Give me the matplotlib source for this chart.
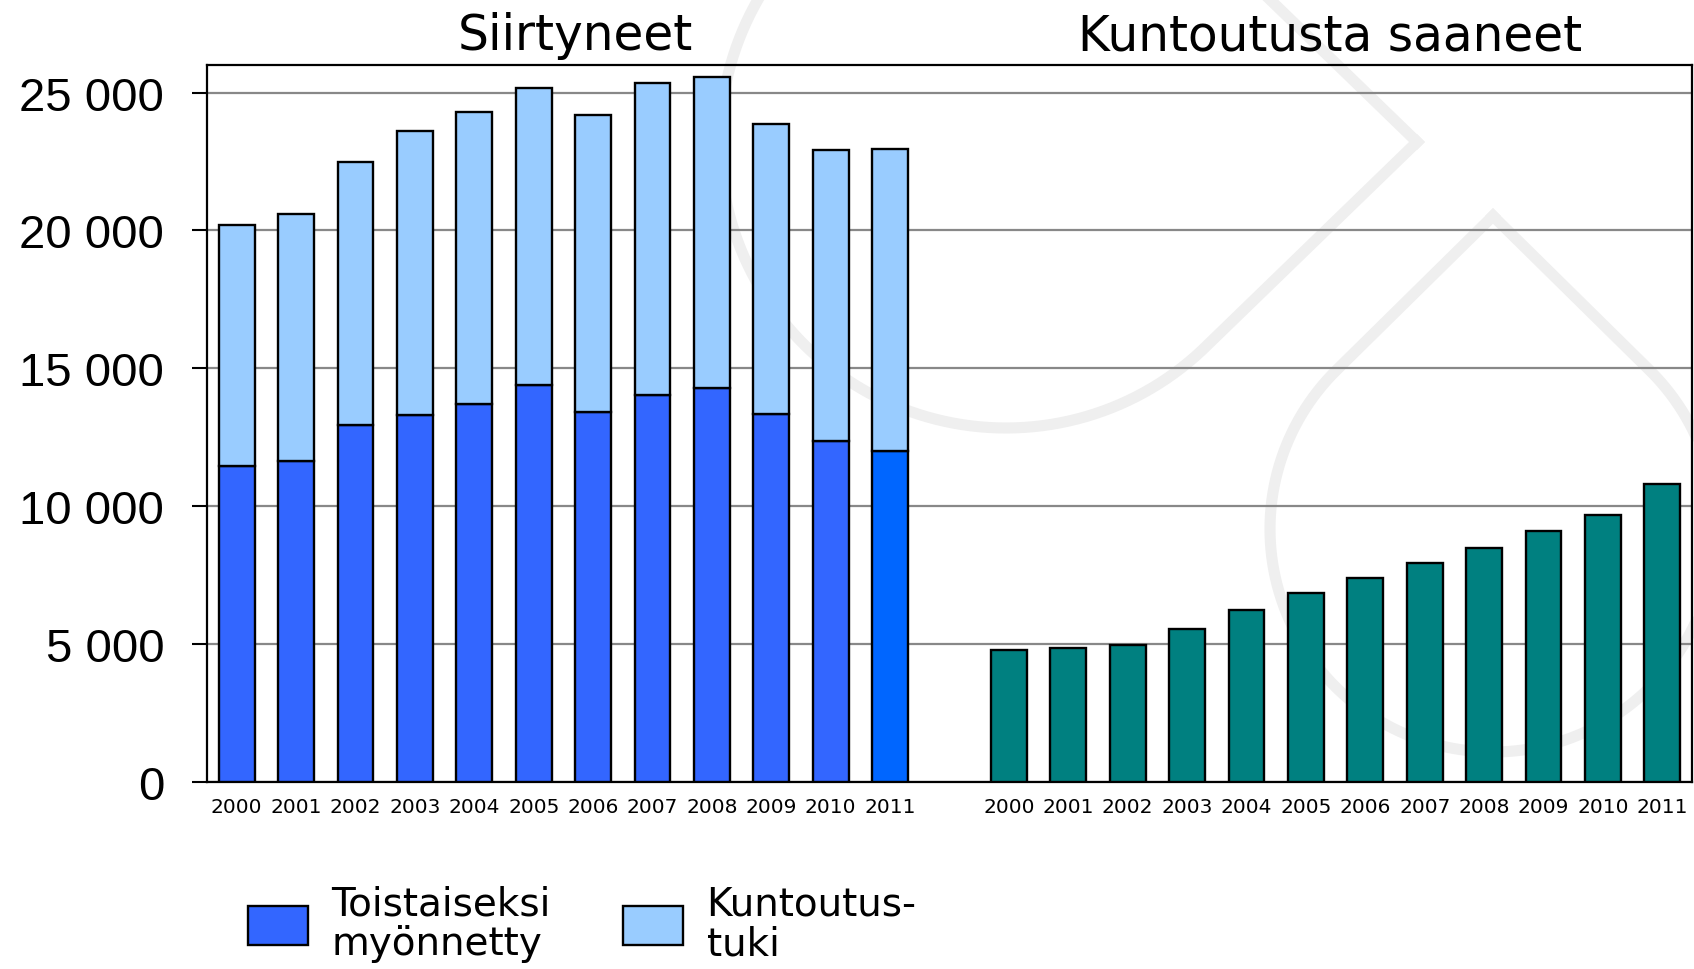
import numpy as np
from matplotlib import pyplot as plt

# data
years = ['2000', '2001', '2002', '2003', '2004', '2005',
         '2006', '2007', '2008', '2009', '2010', '2011']
toistaiseksi = [11450, 11650, 12950, 13300, 13700, 14400,
                13400, 14050, 14300, 13350, 12350, 12000]
siirtyneet_yht = [20200, 20600, 22500, 23600, 24300, 25150,
                  24200, 25350, 25550, 23850, 22900, 22950]
kuntoutustuki = [t - a for t, a in zip(siirtyneet_yht, toistaiseksi)]
kuntoutusta_saaneet = [4800, 4850, 4950, 5550, 6250, 6850,
                       7400, 7950, 8500, 9100, 9700, 10800]
yticks = [0, 5000, 10000, 15000, 20000, 25000]

W, H = 1694, 970
fig = plt.figure(figsize=(W / 100, H / 100), dpi=100)

# faint logo watermark behind everything
bg = fig.add_axes([0, 0, 1, 1], zorder=0)
bg.set_xlim(0, W)
bg.set_ylim(H, 0)
bg.axis('off')


def teardrop(cx, cy, r, px, py):
    ang = np.arctan2(py - cy, px - cx)
    a = np.arccos(r / np.hypot(px - cx, py - cy))
    t = np.linspace(ang + a, ang + 2 * np.pi - a, 300)
    xs = np.concatenate([[px], cx + r * np.cos(t), [px]])
    ys = np.concatenate([[py], cy + r * np.sin(t), [py]])
    return xs, ys


for shape in [(1006, 143, 286, 1417, 143), (1493, 530, 223, 1493, 217)]:
    xs, ys = teardrop(*shape)
    bg.plot(xs, ys, color='#efefef', lw=8, solid_joinstyle='round')

ax = fig.add_axes([207 / W, 1 - 783 / H, (1692 - 207) / W, (783 - 66) / H], zorder=1)
ax.set_facecolor('none')

xl = np.arange(len(years))
xr = xl + len(years) + 1

cols = ['#3366ff'] * (len(years) - 1) + ['#0066ff']
b1 = ax.bar(xl, toistaiseksi, width=0.6, color=cols, edgecolor='black', linewidth=1.7, zorder=3)
b2 = ax.bar(xl, kuntoutustuki, width=0.6, bottom=toistaiseksi, color='#99ccff',
            edgecolor='black', linewidth=1.7, zorder=3)
ax.bar(xr, kuntoutusta_saaneet, width=0.6, color='#008080', edgecolor='black',
       linewidth=1.7, zorder=3)

ax.set_xlim(-0.5, xr[-1] + 0.5)
ax.set_ylim(0, 26000)
ax.set_yticks(yticks)
ax.set_yticklabels([f'{v:,}'.replace(',', ' ') for v in yticks],
                   family='Liberation Sans', fontsize=34)
ax.set_xticks(np.concatenate([xl, xr]))
ax.set_xticklabels(years + years, fontsize=14.5)
ax.tick_params(axis='x', length=0, pad=11)
ax.tick_params(axis='y', length=10.8, width=1.5, pad=20, direction='out')
ax.yaxis.grid(True, color='#888888', linewidth=1.6)
ax.set_axisbelow(True)
for s in ax.spines.values():
    s.set_linewidth(1.6)
    s.set_color('black')

tr = ax.get_xaxis_transform()
ax.text(5.7, 1.0223, 'Siirtyneet', transform=tr, ha='center', va='baseline',
        fontsize=35, clip_on=False)
ax.text(18.4, 1.0223, 'Kuntoutusta saaneet', transform=tr, ha='center', va='baseline',
        fontsize=35, clip_on=False)

leg = fig.legend([b1, b2], ['Toistaiseksi\nmyönnetty', 'Kuntoutus-\ntuki'],
                 loc='upper left', bbox_to_anchor=(248 / W, 1 - 886 / H), ncol=2,
                 frameon=False, fontsize=28,
                 handlelength=1.55, handleheight=1.16, handletextpad=0.6,
                 columnspacing=1.85, borderpad=0, borderaxespad=0, labelspacing=0)
for t in leg.get_texts():
    t.set_linespacing(1.05)

fig.savefig('out.png', dpi=100)
